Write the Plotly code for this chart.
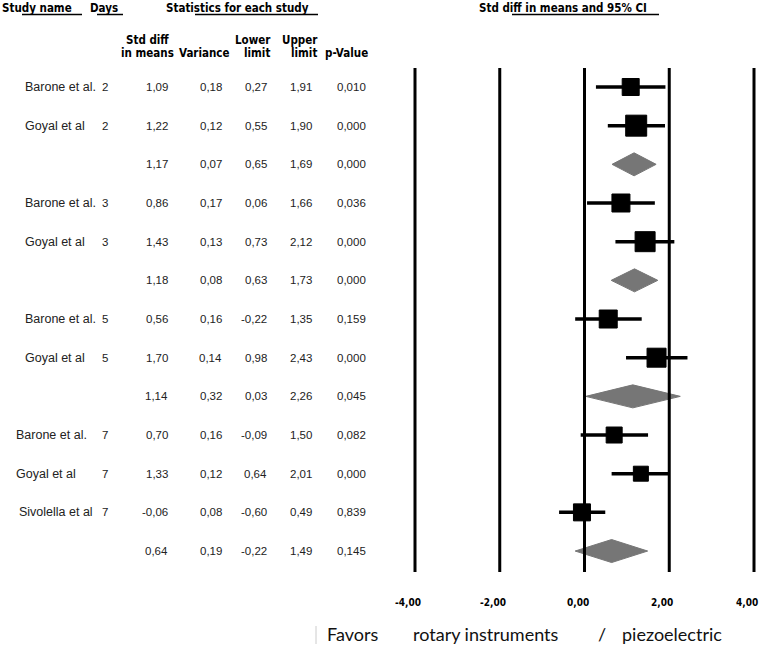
import plotly.graph_objects as go

# ---------------- data ----------------
study = ["Barone et al.", "Goyal et al", "", "Barone et al.", "Goyal et al", "",
         "Barone et al.", "Goyal et al", "", "Barone et al.", "Goyal et al",
         "Sivolella et al", ""]
days = ["2", "2", "", "3", "3", "", "5", "5", "", "7", "7", "7", ""]
smd = [1.09, 1.22, 1.17, 0.86, 1.43, 1.18, 0.56, 1.70, 1.14, 0.70, 1.33, -0.06, 0.64]
variance = [0.18, 0.12, 0.07, 0.17, 0.13, 0.08, 0.16, 0.14, 0.32, 0.16, 0.12, 0.08, 0.19]
lower = [0.27, 0.55, 0.65, 0.06, 0.73, 0.63, -0.22, 0.98, 0.03, -0.09, 0.64, -0.60, -0.22]
upper = [1.91, 1.90, 1.69, 1.66, 2.12, 1.73, 1.35, 2.43, 2.26, 1.50, 2.01, 0.49, 1.49]
pvalue = [0.010, 0.000, 0.000, 0.036, 0.000, 0.000, 0.159, 0.000, 0.045, 0.082, 0.000, 0.839, 0.145]
pooled = [False, False, True, False, False, True, False, False, True, False, False, False, True]
axis_ticks = [-4, -2, 0, 2, 4]
axis_labels = ["-4,00", "-2,00", "0,00", "2,00", "4,00"]

# ---------------- styling ----------------
W, H = 761, 652
square_sizes = [17, 21, 0, 18, 20, 0, 18, 19, 0, 16, 15, 17, 0]
name_left_px = [23, 23, 0, 23, 23, 0, 23, 23, 0, 14, 14, 17, 0]
PX_PER_UNIT = 42.375
X0_PX = 584.5
ROW0_PX = 87
ROW_PX = 38.67
DIAMOND_HALF = 11.5 / ROW_PX


def fmt(v, d=2):
    return f"{v:.{d}f}".replace(".", ",")


def px(x):
    return x / W


def py(y):
    return 1 - y / H


def row_of(ypx):
    return (ypx - ROW0_PX) / ROW_PX


fig = go.Figure()
rows = list(range(len(smd)))

# CI lines for individual studies
cx, cy = [], []
for r in rows:
    if not pooled[r]:
        cx += [lower[r], upper[r], None]
        cy += [r, r, None]
fig.add_trace(go.Scatter(x=cx, y=cy, mode="lines",
                         line=dict(color="black", width=3.5), hoverinfo="skip"))

# squares
sx = [smd[r] for r in rows if not pooled[r]]
sy = [r for r in rows if not pooled[r]]
ss = [square_sizes[r] for r in rows if not pooled[r]]
fig.add_trace(go.Scatter(x=sx, y=sy, mode="markers", opacity=1,
                         marker=dict(symbol="square", size=ss, color="#000000",
                                     opacity=1,
                                     line=dict(width=1, color="#000000"))))

# diamonds for pooled estimates
for r in rows:
    if pooled[r]:
        fig.add_trace(go.Scatter(
            x=[lower[r], smd[r], upper[r], smd[r], lower[r]],
            y=[r, r - DIAMOND_HALF, r, r + DIAMOND_HALF, r],
            mode="lines", fill="toself", fillcolor="#767676",
            line=dict(color="#767676", width=1), hoverinfo="skip"))

shapes = []
for t in axis_ticks:
    shapes.append(dict(type="line", xref="x", yref="y", x0=t, x1=t,
                       y0=row_of(68), y1=row_of(572),
                       line=dict(color="black", width=3)))
# header underlines
for a, b in [(22, 82), (97, 123), (195, 318), (512, 659)]:
    shapes.append(dict(type="line", xref="paper", yref="paper",
                       x0=px(a), x1=px(b), y0=py(14.5), y1=py(14.5),
                       line=dict(color="black", width=1.5)))
# faint cursor mark before "Favors"
shapes.append(dict(type="line", xref="paper", yref="paper",
                   x0=px(316), x1=px(316), y0=py(626), y1=py(644),
                   line=dict(color="#cccccc", width=1)))

ann = []
HF = dict(family="DejaVu Sans Condensed, DejaVu Sans", size=11.5, color="black")
TF = dict(family="Liberation Sans, Arial", size=11.5, color="#222222")
NF = dict(family="Liberation Sans, Arial", size=12.5, color="#222222")


def head(text, x, y, anchor="left"):
    ann.append(dict(text=f"<b>{text}</b>", xref="paper", yref="paper",
                    x=px(x), y=py(y), xanchor=anchor, yanchor="middle",
                    showarrow=False, font=HF))


head("Study name", 0, 8)
head("Days", 88, 8)
head("Statistics for each study", 164, 8)
head("Std diff in means and 95% CI", 477, 8)
head("Std diff", 147, 40, "center")
head("in means", 147, 53, "center")
head("Variance", 204, 53, "center")
head("Lower", 253, 40, "center")
head("limit", 257, 53, "center")
head("Upper", 300, 40, "center")
head("limit", 304, 53, "center")
head("p-Value", 346, 53, "center")


def cell(text, x, r, anchor="right", font=TF):
    ann.append(dict(text=text, xref="paper", yref="y", x=px(x), y=r,
                    xanchor=anchor, yanchor="middle", showarrow=False, font=font))


for r in rows:
    if study[r]:
        cell(study[r], name_left_px[r], r, "left", NF)
    if days[r]:
        cell(days[r], 105, r, "center")
    cell(fmt(smd[r]), 170, r)
    cell(fmt(variance[r]), 224, r)
    cell(fmt(lower[r]), 269, r)
    cell(fmt(upper[r]), 314, r)
    cell(fmt(pvalue[r], 3), 368, r)

for t, lab in zip(axis_ticks, axis_labels):
    ann.append(dict(text=f"<b>{lab}</b>", xref="x", yref="paper", x=t,
                    y=py(602), xanchor="center", yanchor="middle",
                    xshift=-7, showarrow=False,
                    font=dict(family="DejaVu Sans Condensed, DejaVu Sans",
                              size=10, color="black")))

BF = dict(family="Lato, Open Sans", size=18, color="#111111")
for text, x in [("Favors", 325), ("rotary instruments", 411), ("/", 596),
                ("piezoelectric", 620)]:
    ann.append(dict(text=text, xref="paper", yref="paper", x=px(x),
                    y=py(634), xanchor="left", yanchor="middle",
                    showarrow=False, font=BF))

fig.update_layout(
    width=W, height=H, margin=dict(l=0, r=0, t=0, b=0),
    paper_bgcolor="white", plot_bgcolor="white", showlegend=False,
    hovermode=False,
    xaxis=dict(range=[-X0_PX / PX_PER_UNIT, (W - X0_PX) / PX_PER_UNIT],
               visible=False, fixedrange=True),
    yaxis=dict(range=[(H - ROW0_PX) / ROW_PX, -ROW0_PX / ROW_PX],
               visible=False, fixedrange=True),
    shapes=shapes, annotations=ann,
)

fig.write_html("out.html",
               config={"displayModeBar": False, "staticPlot": True},
               post_script="document.body.style.margin='0px';"
                           "document.body.style.overflow='hidden';")
